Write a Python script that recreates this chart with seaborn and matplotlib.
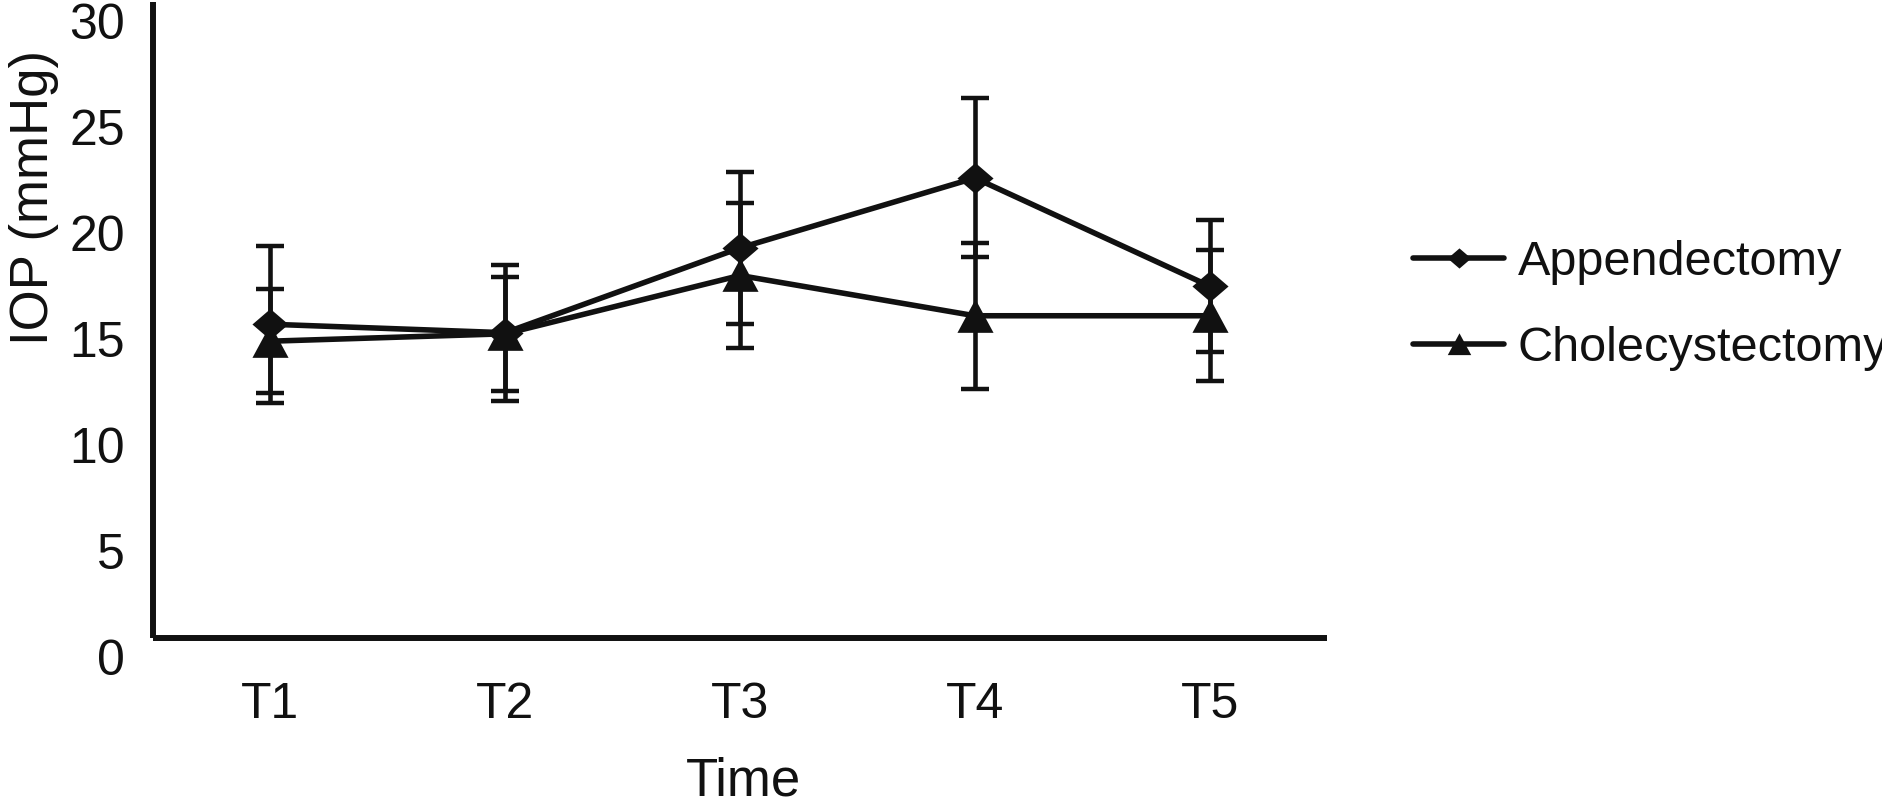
import numpy as np
import pandas as pd
import matplotlib
matplotlib.use("Agg")
import matplotlib.pyplot as plt
import matplotlib.transforms as mtransforms
from matplotlib.path import Path
import seaborn as sns

# ---- data ----
times = ["T1", "T2", "T3", "T4", "T5"]
groups = ["Appendectomy", "Cholecystectomy"]
app_mean = [14.8, 14.4, 18.4, 21.7, 16.6]
app_sd = [3.7, 3.2, 3.6, 3.75, 3.1]
chole_mean = [14.0, 14.35, 17.1, 15.2, 15.2]
chole_sd = [2.45, 2.7, 3.4, 3.45, 3.1]
yticks = [0, 5, 10, 15, 20, 25, 30]

sns.set_theme(style="white")
plt.rcParams["font.family"] = ["Liberation Sans", "DejaVu Sans"]

x_idx = np.arange(len(times))
df = pd.DataFrame({
    "x": np.concatenate([x_idx, x_idx]),
    "IOP": app_mean + chole_mean,
    "Group": [groups[0]] * len(times) + [groups[1]] * len(times),
})

INK = "#111111"
diamond = Path([(0, 0.86), (1, 0), (0, -0.86), (-1, 0), (0, 0.86)],
               [Path.MOVETO, Path.LINETO, Path.LINETO, Path.LINETO, Path.CLOSEPOLY])
triangle = Path([(0, 1), (-1.05, -0.95), (1.05, -0.95), (0, 1)],
                [Path.MOVETO, Path.LINETO, Path.LINETO, Path.CLOSEPOLY])

fig = plt.figure(figsize=(18.83, 7.98), dpi=100)
ax = fig.add_axes([153 / 1883, 1 - 638 / 798, (1327 - 153) / 1883, (638 - 2) / 798])

sns.lineplot(data=df, x="x", y="IOP", hue="Group", style="Group",
             hue_order=groups, style_order=groups,
             palette={groups[0]: INK, groups[1]: INK},
             markers={groups[0]: diamond, groups[1]: triangle},
             dashes=False, linewidth=4.0, markersize=26, markeredgewidth=0,
             legend=False, ax=ax, zorder=3)
series_lines = list(ax.lines[:2])

for m, s in [(app_mean, app_sd), (chole_mean, chole_sd)]:
    ax.errorbar(x_idx, m, yerr=s, fmt="none", ecolor=INK, elinewidth=3.3,
                capsize=10, capthick=3.2, zorder=2)

ax.set_xlim(-0.5, len(times) - 0.5)
ax.set_ylim(0, 30)
ax.set_xticks(x_idx)
ax.set_xticklabels(times)
ax.set_yticks(yticks)
ax.set_yticklabels([str(v) for v in yticks])
ax.tick_params(axis="both", length=0, labelsize=36, colors=INK)
ax.tick_params(axis="x", pad=32)
ax.tick_params(axis="y", pad=20)

offset = mtransforms.ScaledTranslation(0, -19 / 100, fig.dpi_scale_trans)
for lab in ax.get_yticklabels():
    lab.set_transform(lab.get_transform() + offset)

for side in ["top", "right"]:
    ax.spines[side].set_visible(False)
for side in ["left", "bottom"]:
    ax.spines[side].set_linewidth(4.3)
    ax.spines[side].set_color(INK)
    ax.spines[side].set_capstyle("butt")

ax.set_xlabel("Time", fontsize=38, color=INK)
ax.set_ylabel("IOP (mmHg)", fontsize=38, color=INK)
ax.xaxis.set_label_coords(0.503, -0.226)
ax.xaxis.label.set_va("center")
ax.yaxis.set_label_coords(-0.101, 0.692)
ax.yaxis.label.set_va("center")

leg = ax.legend(handles=series_lines, labels=groups, loc="upper left",
                bbox_to_anchor=(1413 / 1883, 1 - 240 / 798),
                bbox_transform=fig.transFigure, frameon=False,
                fontsize=35, handlelength=1.88, handletextpad=0.27,
                labelspacing=0.85, borderpad=0, borderaxespad=0,
                markerscale=0.65)
for t in leg.get_texts():
    t.set_color(INK)

fig.savefig("out.png", dpi=100)
